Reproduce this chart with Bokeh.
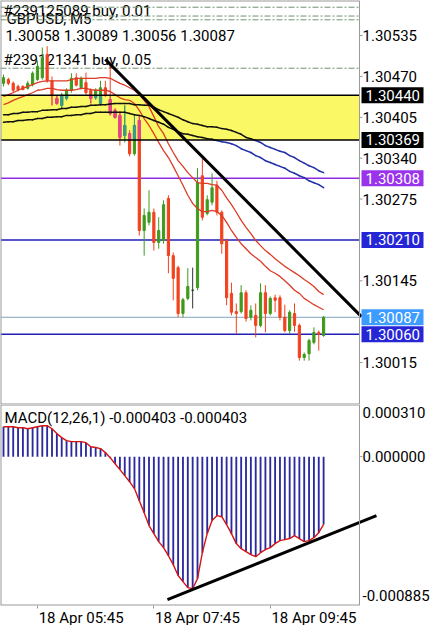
from bokeh.plotting import figure
from bokeh.models import Range1d, FixedTicker, Label, BoxAnnotation
from bokeh.core.properties import value
from bokeh.layouts import column
from bokeh.embed import file_html
from bokeh.resources import INLINE

FONT = "Roboto"

# ---------------- data ----------------
tick_bars = [7, 31, 55]
tick_labels = ["18 Apr 05:45", "18 Apr 07:45", "18 Apr 09:45"]

opens = [1.30459, 1.30465, 1.30459, 1.30454, 1.30454, 1.30451, 1.30457, 1.30465, 1.30468, 1.30505,
         1.30463, 1.30435, 1.30424, 1.30435, 1.30448, 1.30468, 1.30452, 1.30460, 1.30448, 1.30436,
         1.30427, 1.30452, 1.30433, 1.30416, 1.30408, 1.30376, 1.30379, 1.30347, 1.30400, 1.30225,
         1.30238, 1.30254, 1.30206, 1.30209, 1.30276, 1.30185, 1.30166, 1.30093, 1.30117, 1.30130,
         1.30134, 1.30312, 1.30252, 1.30270, 1.30297, 1.30254, 1.30209, 1.30125, 1.30096, 1.30096,
         1.30126, 1.30087, 1.30090, 1.30074, 1.30126, 1.30093, 1.30118, 1.30118, 1.30087, 1.30066,
         1.30093, 1.30074, 1.30023, 1.30029, 1.30047, 1.30063, 1.30058]
highs = [1.30473, 1.30468, 1.30462, 1.30457, 1.30456, 1.30463, 1.30478, 1.30495, 1.30516, 1.30518,
         1.30470, 1.30440, 1.30444, 1.30451, 1.30475, 1.30475, 1.30470, 1.30476, 1.30451, 1.30451,
         1.30463, 1.30463, 1.30490, 1.30419, 1.30413, 1.30424, 1.30384, 1.30408, 1.30408, 1.30260,
         1.30289, 1.30260, 1.30246, 1.30273, 1.30281, 1.30190, 1.30169, 1.30118, 1.30165, 1.30166,
         1.30324, 1.30339, 1.30281, 1.30316, 1.30304, 1.30257, 1.30212, 1.30142, 1.30109, 1.30138,
         1.30130, 1.30106, 1.30109, 1.30141, 1.30138, 1.30120, 1.30123, 1.30122, 1.30107, 1.30098,
         1.30109, 1.30077, 1.30031, 1.30053, 1.30071, 1.30066, 1.30089]
lows = [1.30454, 1.30456, 1.30444, 1.30446, 1.30448, 1.30449, 1.30454, 1.30463, 1.30465, 1.30460,
        1.30424, 1.30425, 1.30419, 1.30432, 1.30444, 1.30454, 1.30449, 1.30441, 1.30427, 1.30433,
        1.30424, 1.30438, 1.30408, 1.30403, 1.30360, 1.30365, 1.30343, 1.30344, 1.30217, 1.30185,
        1.30233, 1.30193, 1.30196, 1.30204, 1.30157, 1.30114, 1.30087, 1.30087, 1.30114, 1.30101,
        1.30130, 1.30241, 1.30249, 1.30265, 1.30249, 1.30188, 1.30106, 1.30090, 1.30061, 1.30093,
        1.30080, 1.30082, 1.30055, 1.30071, 1.30063, 1.30090, 1.30095, 1.30082, 1.30063, 1.30061,
        1.30064, 1.30018, 1.30018, 1.30018, 1.30044, 1.30034, 1.30056]
closes = [1.30468, 1.30459, 1.30448, 1.30449, 1.30449, 1.30459, 1.30475, 1.30486, 1.30500, 1.30463,
          1.30440, 1.30427, 1.30440, 1.30448, 1.30467, 1.30456, 1.30467, 1.30444, 1.30435, 1.30448,
          1.30452, 1.30440, 1.30411, 1.30405, 1.30373, 1.30392, 1.30347, 1.30392, 1.30225, 1.30249,
          1.30254, 1.30206, 1.30225, 1.30266, 1.30185, 1.30149, 1.30093, 1.30115, 1.30136, 1.30130,
          1.30301, 1.30246, 1.30274, 1.30293, 1.30254, 1.30204, 1.30118, 1.30095, 1.30093, 1.30126,
          1.30085, 1.30098, 1.30074, 1.30126, 1.30093, 1.30117, 1.30114, 1.30087, 1.30066, 1.30095,
          1.30074, 1.30023, 1.30028, 1.30050, 1.30063, 1.30060, 1.30087]

env_upper = [1.30438, 1.30441, 1.30444, 1.30448, 1.30451, 1.30454, 1.30457, 1.30460, 1.30462, 1.30463,
             1.30463, 1.30463, 1.30463, 1.30463, 1.30465, 1.30467, 1.30467, 1.30467, 1.30467, 1.30467,
             1.30468, 1.30468, 1.30467, 1.30463, 1.30459, 1.30456, 1.30452, 1.30448, 1.30441, 1.30432,
             1.30422, 1.30406, 1.30390, 1.30379, 1.30363, 1.30349, 1.30336, 1.30327, 1.30317, 1.30309,
             1.30301, 1.30300, 1.30300, 1.30298, 1.30297, 1.30289, 1.30277, 1.30266, 1.30254, 1.30241,
             1.30230, 1.30220, 1.30209, 1.30201, 1.30193, 1.30187, 1.30180, 1.30174, 1.30168, 1.30163,
             1.30158, 1.30153, 1.30147, 1.30142, 1.30136, 1.30128, 1.30123]
env_lower = [1.30425, 1.30428, 1.30432, 1.30435, 1.30438, 1.30441, 1.30444, 1.30448, 1.30449, 1.30451,
             1.30451, 1.30449, 1.30448, 1.30448, 1.30448, 1.30449, 1.30451, 1.30451, 1.30449, 1.30448,
             1.30448, 1.30448, 1.30446, 1.30441, 1.30436, 1.30433, 1.30432, 1.30427, 1.30416, 1.30403,
             1.30392, 1.30379, 1.30365, 1.30352, 1.30341, 1.30327, 1.30312, 1.30297, 1.30281, 1.30268,
             1.30260, 1.30255, 1.30255, 1.30257, 1.30255, 1.30249, 1.30238, 1.30225, 1.30214, 1.30204,
             1.30196, 1.30188, 1.30182, 1.30176, 1.30168, 1.30161, 1.30157, 1.30152, 1.30145, 1.30138,
             1.30130, 1.30125, 1.30117, 1.30112, 1.30107, 1.30103, 1.30099]
ma_slow_a = [1.30409, 1.30409, 1.30411, 1.30411, 1.30413, 1.30413, 1.30414, 1.30414, 1.30416, 1.30416,
             1.30417, 1.30417, 1.30419, 1.30419, 1.30421, 1.30421, 1.30422, 1.30422, 1.30424, 1.30424,
             1.30425, 1.30425, 1.30426, 1.30427, 1.30427, 1.30427, 1.30427, 1.30425, 1.30425, 1.30424,
             1.30424, 1.30421, 1.30417, 1.30414, 1.30411, 1.30408, 1.30405, 1.30401, 1.30398, 1.30395,
             1.30394, 1.30392, 1.30390, 1.30390, 1.30389, 1.30387, 1.30386, 1.30384, 1.30381, 1.30378,
             1.30373, 1.30371, 1.30368, 1.30365, 1.30360, 1.30357, 1.30354, 1.30351, 1.30349, 1.30344,
             1.30341, 1.30336, 1.30332, 1.30328, 1.30325, 1.30320, 1.30317]
ma_slow_b = [1.30397, 1.30398, 1.30398, 1.30400, 1.30400, 1.30401, 1.30401, 1.30403, 1.30403, 1.30405,
             1.30405, 1.30406, 1.30406, 1.30408, 1.30408, 1.30409, 1.30409, 1.30411, 1.30411, 1.30413,
             1.30413, 1.30413, 1.30413, 1.30413, 1.30413, 1.30413, 1.30411, 1.30409, 1.30408, 1.30406,
             1.30403, 1.30400, 1.30397, 1.30394, 1.30389, 1.30386, 1.30382, 1.30379, 1.30378, 1.30376,
             1.30374, 1.30373, 1.30371, 1.30370, 1.30368, 1.30366, 1.30365, 1.30363, 1.30360, 1.30355,
             1.30352, 1.30349, 1.30344, 1.30341, 1.30336, 1.30333, 1.30330, 1.30327, 1.30324, 1.30319,
             1.30316, 1.30312, 1.30309, 1.30304, 1.30301, 1.30298, 1.30293]

macd = [0.000178, 0.000178, 0.000178, 0.000172, 0.000172, 0.000166, 0.000172, 0.000178, 0.000184, 0.000184,
        0.000166, 0.000137, 0.000113, 0.000095, 0.000089, 0.000089, 0.000089, 0.000083, 0.000059, 0.000054,
        0.000048, 0.000024, -0.000006, -0.000042, -0.000077, -0.000113, -0.000149, -0.000190, -0.000262, -0.000333,
        -0.000410, -0.000458, -0.000505, -0.000541, -0.000589, -0.000642, -0.000707, -0.000743, -0.000779, -0.000785,
        -0.000725, -0.000571, -0.000458, -0.000380, -0.000351, -0.000357, -0.000404, -0.000458, -0.000517, -0.000547,
        -0.000565, -0.000583, -0.000595, -0.000571, -0.000553, -0.000541, -0.000517, -0.000499, -0.000493, -0.000487,
        -0.000470, -0.000487, -0.000505, -0.000499, -0.000482, -0.000452, -0.000403]

zone_top = 1.30440
zone_bottom = 1.30369
level_purple = 1.30308
levels_blue = [1.30210, 1.30060]
bid_price = 1.30087
order_levels = [1.30580, 1.30566, 1.30560, 1.30483]
price_ticks = [1.30535, 1.30470, 1.30405, 1.30340, 1.30275, 1.30145, 1.30015]
tag_prices = [1.30440, 1.30369, 1.30308, 1.30210, 1.30087, 1.30060]

trend_x = [21.0, 73.8]
trend_y = [1.30497, 1.30088]
macd_trend_x = [33.8, 76.9]
macd_trend_y = [-0.000850, -0.000351]

macd_scale_values = [0.000310, 0.0, -0.000885]

header_orders = ["#239125089 buy, 0.01", "#239121341 buy, 0.05"]
header_symbol = "GBPUSD, M5"
header_ohlc = "1.30058 1.30089 1.30056 1.30087"
macd_title = "MACD(12,26,1) -0.000403 -0.000403"

# ---------------- styles / layout ----------------
BORDER = "#9a9a9a"
GREEN = "#3f9a1c"
RED = "#f2421e"
DOJI = "#333333"
GREEN_IN_ZONE = "#3a9a8c"
RED_IN_ZONE = "#e0458e"
YELLOW = "#fbf866"
ENV_RED = "#dc3b25"
MA_BLUE = "#2230a8"
PURPLE = "#8f2be0"
BLUE = "#1f1fb8"
HIST = "#2a2a9e"
SIG = "#d41414"
ORDER = "#6f906f"
tag_colors = ["#000000", "#000000", "#9a34ec", "#2626d6", "#3d9cff", "#2626d6"]

n = len(opens)
idx = list(range(n))
PX_PER_BAR = 4.85
X0 = -0.62
FULL_W = 434
SCALE_PX = 359
MAIN_H = 404
MACD_H = 201


def px_to_x(px):
    return X0 + px / PX_PER_BAR


X_END = px_to_x(FULL_W)
X_SCALE = px_to_x(SCALE_PX)
X_TICK_END = px_to_x(SCALE_PX + 3)
X_TEXT = px_to_x(SCALE_PX + 3)
X_TAG_L, X_TAG_R, X_TAG_TXT = px_to_x(361), px_to_x(423), px_to_x(365)

x_range = Range1d(X0, X_END)
Y_MAIN = (1.299483, 1.305907)
Y_MACD = (-0.000885, 0.000310)
main_per_px = (Y_MAIN[1] - Y_MAIN[0]) / MAIN_H
macd_per_px = (Y_MACD[1] - Y_MACD[0]) / MACD_H

# ---------------- main panel ----------------
p = figure(frame_width=FULL_W, frame_height=MAIN_H, x_range=x_range,
           y_range=Range1d(*Y_MAIN), output_backend="svg",
           toolbar_location=None, x_axis_location=None, y_axis_location=None,
           min_border=0, outline_line_color=None,
           background_fill_color="white", border_fill_color="white")
p.grid.visible = False

# header texts (behind candles)
for txt, xs, ys in [(header_symbol, 6, 18), (header_orders[0], 3, 10),
                    (header_ohlc, 5, 35), (header_orders[1], 3, 59)]:
    p.add_layout(Label(x=xs, y=MAIN_H - ys, x_units="screen", y_units="screen", text=txt,
                       text_font=FONT, text_font_size="15px", text_color="#000000",
                       text_align="left", text_baseline="middle", level="underlay"))

p.add_layout(BoxAnnotation(bottom=zone_bottom, top=zone_top, right=X_SCALE,
                           fill_color=YELLOW, fill_alpha=1.0, line_color=None, level="underlay"))


def hlines(fig, levels, **kw):
    k = len(levels)
    fig.segment(x0=[X0] * k, y0=levels, x1=[X_SCALE] * k, y1=levels, **kw)


hlines(p, order_levels, line_color=ORDER, line_width=1, line_dash="6 2 2 2")
hlines(p, [bid_price], line_color="#7fa6bd", line_width=1)
hlines(p, [level_purple], line_color=PURPLE, line_width=1.5)
hlines(p, levels_blue, line_color=BLUE, line_width=1.5)

# candles
cols = []
for o, c in zip(opens, closes):
    if abs(c - o) < 1e-9:
        cols.append(DOJI)
    elif c > o:
        cols.append(GREEN)
    else:
        cols.append(RED)
body_top = [max(o, c) for o, c in zip(opens, closes)]
body_bot = [min(o, c) for o, c in zip(opens, closes)]
p.segment(x0=idx, y0=lows, x1=idx, y1=highs, line_color=cols, line_width=1)
p.vbar(x=idx, top=body_top, bottom=body_bot, width=0.45, fill_color=cols, line_color=cols, line_width=1)

# parts of candles seen through the zone take a different tint
zx, zt, zb, zc, wx, wt, wb, wc = [], [], [], [], [], [], [], []
for i in idx:
    if cols[i] == DOJI:
        continue
    tint = GREEN_IN_ZONE if cols[i] == GREEN else RED_IN_ZONE
    t = min(body_top[i], zone_top)
    b = max(body_bot[i], zone_bottom)
    if t > b:
        zx.append(i); zt.append(t); zb.append(b); zc.append(tint)
    t = min(highs[i], zone_top)
    b = max(lows[i], zone_bottom)
    if t > b:
        wx.append(i); wt.append(t); wb.append(b); wc.append(tint)
p.segment(x0=wx, y0=wb, x1=wx, y1=wt, line_color=wc, line_width=1)
p.vbar(x=zx, top=zt, bottom=zb, width=0.45, fill_color=zc, line_color=zc, line_width=1)

# envelope lines
p.line(idx, env_upper, line_color=ENV_RED, line_width=1.3)
p.line(idx, env_lower, line_color=ENV_RED, line_width=1.3)


def split_by_zone(xs, ys, lo, hi):
    inside, outside = ([], [], [], []), ([], [], [], [])
    for i in range(len(xs) - 1):
        x0, y0, x1, y1 = xs[i], ys[i], xs[i + 1], ys[i + 1]
        ts = [0.0, 1.0]
        for bnd in (lo, hi):
            if (y0 - bnd) * (y1 - bnd) < 0:
                ts.append((bnd - y0) / (y1 - y0))
        ts.sort()
        for ta, tb in zip(ts[:-1], ts[1:]):
            xa, ya_ = x0 + (x1 - x0) * ta, y0 + (y1 - y0) * ta
            xb, yb = x0 + (x1 - x0) * tb, y0 + (y1 - y0) * tb
            tgt = inside if lo <= (ya_ + yb) / 2 <= hi else outside
            tgt[0].append(xa); tgt[1].append(ya_); tgt[2].append(xb); tgt[3].append(yb)
    return inside, outside


for series in (ma_slow_a, ma_slow_b):
    ins, outs = split_by_zone(idx, series, zone_bottom, zone_top)
    p.segment(x0=ins[0], y0=ins[1], x1=ins[2], y1=ins[3], line_color="#111111",
              line_width=1.5, line_cap="round")
    p.segment(x0=outs[0], y0=outs[1], x1=outs[2], y1=outs[3], line_color=MA_BLUE,
              line_width=1.5, line_cap="round")

hlines(p, [zone_top, zone_bottom], line_color="black", line_width=1.5)

p.line(trend_x, trend_y, line_color="black", line_width=3)

# window frame and price scale
p.segment(x0=[X_SCALE], y0=[Y_MAIN[0]], x1=[X_SCALE], y1=[Y_MAIN[1]], line_color=BORDER, line_width=1)
p.segment(x0=[X0], y0=[Y_MAIN[0]], x1=[X0], y1=[Y_MAIN[1]], line_color=BORDER, line_width=2)
hlines(p, [Y_MAIN[0], Y_MAIN[1]], line_color=BORDER, line_width=2)
k = len(price_ticks)
p.segment(x0=[X_SCALE] * k, y0=price_ticks, x1=[X_TICK_END] * k, y1=price_ticks,
          line_color=BORDER, line_width=1)
p.text(x=[X_TEXT] * k, y=price_ticks, text=[f"{v:.5f}" for v in price_ticks],
       text_font=value(FONT), text_font_size="15px", text_color="#000000",
       text_align="left", text_baseline="middle")

# price tags on the scale
half = 8 * main_per_px
kt = len(tag_prices)
p.quad(left=[X_TAG_L] * kt, right=[X_TAG_R] * kt,
       bottom=[v - half for v in tag_prices], top=[v + half for v in tag_prices],
       fill_color=tag_colors, line_color=None)
p.text(x=[X_TAG_TXT] * kt, y=tag_prices, text=[f"{v:.5f}" for v in tag_prices],
       text_font=value(FONT), text_font_size="15px", text_color="#ffffff",
       text_align="left", text_baseline="middle")

# ---------------- MACD panel ----------------
p2 = figure(frame_width=FULL_W, frame_height=MACD_H, x_range=x_range,
            y_range=Range1d(*Y_MACD), output_backend="svg",
            toolbar_location=None, x_axis_location="below", y_axis_location=None,
            min_border=0, min_border_bottom=20,
            outline_line_color=None, background_fill_color="white", border_fill_color="white")
p2.grid.visible = False

p2.vbar(x=idx, top=macd, bottom=0, width=0.38, fill_color=HIST, line_color=None)
p2.line(idx, macd, line_color=SIG, line_width=1.4)
p2.line(macd_trend_x, macd_trend_y, line_color="black", line_width=3)

p2.add_layout(Label(x=4, y=MACD_H - 13, x_units="screen", y_units="screen", text=macd_title,
                    text_font=FONT, text_font_size="15px", text_color="#000000",
                    text_align="left", text_baseline="middle"))

# window frame
p2.segment(x0=[X_SCALE], y0=[Y_MACD[0]], x1=[X_SCALE], y1=[Y_MACD[1]], line_color=BORDER, line_width=1)
p2.segment(x0=[X0], y0=[Y_MACD[0]], x1=[X0], y1=[Y_MACD[1]], line_color=BORDER, line_width=2)
hlines(p2, [Y_MACD[0], Y_MACD[1]], line_color=BORDER, line_width=2)

# MACD scale: MT4 keeps the extreme labels inside the window
macd_label_pos = [Y_MACD[1] - 8 * macd_per_px, 0.0, Y_MACD[0] + 10 * macd_per_px]
p2.segment(x0=[X_SCALE], y0=[0.0], x1=[X_TICK_END], y1=[0.0], line_color=BORDER, line_width=1)
p2.text(x=[X_TEXT] * 3, y=macd_label_pos, text=[f"{v:.6f}" for v in macd_scale_values],
        text_font=value(FONT), text_font_size="15px", text_color="#000000",
        text_align="left", text_baseline="middle")

# time axis: MT4 labels start at their tick
label_pos = [t + 9 for t in tick_bars]
xa = p2.xaxis[0]
xa.ticker = FixedTicker(ticks=label_pos, minor_ticks=tick_bars)
xa.major_label_overrides = {pos: lab for pos, lab in zip(label_pos, tick_labels)}
xa.axis_line_color = None
xa.major_tick_line_color = None
xa.major_tick_out = 0
xa.major_tick_in = 0
xa.minor_tick_line_color = BORDER
xa.minor_tick_out = 3
xa.minor_tick_in = 0
xa.major_label_standoff = 0
xa.major_label_text_font = FONT
xa.major_label_text_font_size = "15px"
xa.major_label_text_color = "#000000"

layout = column(p, p2, spacing=0)
open("out.html", "w").write(file_html(layout, INLINE))
